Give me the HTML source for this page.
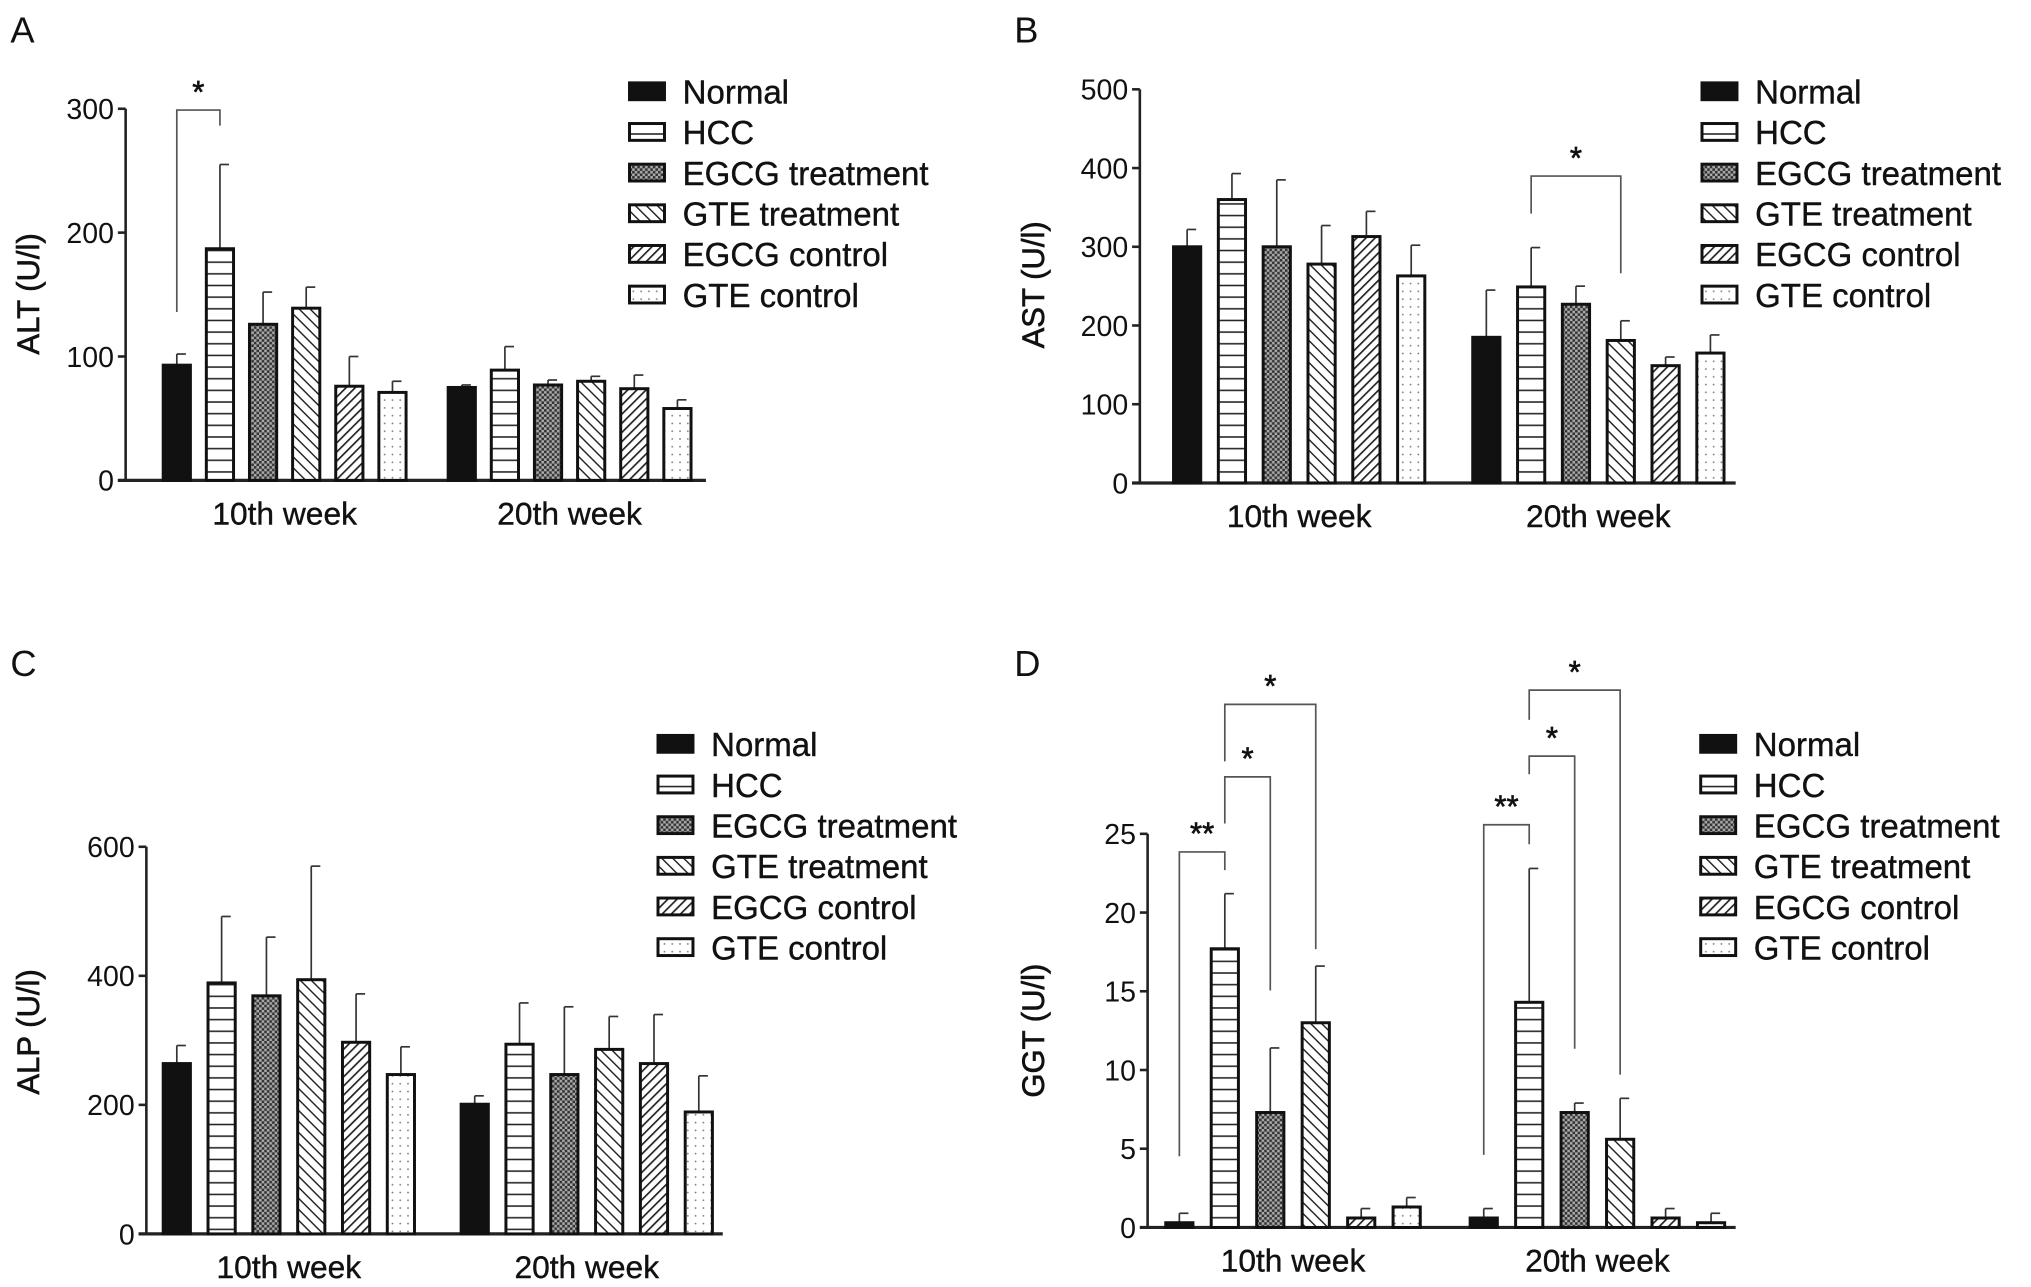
<!DOCTYPE html>
<html><head><meta charset="utf-8">
<style>html,body{margin:0;padding:0;background:#fff}svg{display:block}text{font-family:"Liberation Sans",sans-serif;fill:#111}</style>
</head><body>
<svg id="fig" width="2031" height="1287" viewBox="0 0 1568 994" preserveAspectRatio="none" xmlns="http://www.w3.org/2000/svg">
<defs>
<pattern id="p-hcc" width="8" height="9" patternUnits="userSpaceOnUse"><rect width="8" height="9" fill="#fff"/><line x1="0" y1="4.5" x2="8" y2="4.5" stroke="#222" stroke-width="1.2"/></pattern>
<pattern id="p-egcg" width="4" height="4" patternUnits="userSpaceOnUse"><rect width="4" height="4" fill="#aaa"/><rect width="2" height="2" fill="#333"/><rect x="2" y="2" width="2" height="2" fill="#333"/></pattern>
<pattern id="p-gte" width="6" height="6" patternUnits="userSpaceOnUse" patternTransform="rotate(-45)"><rect width="6" height="6" fill="#fff"/><line x1="0" y1="0" x2="0" y2="6" stroke="#222" stroke-width="2.2"/></pattern>
<pattern id="p-egcgc" width="5" height="5" patternUnits="userSpaceOnUse" patternTransform="rotate(45)"><rect width="5" height="5" fill="#fff"/><line x1="0" y1="0" x2="0" y2="5" stroke="#222" stroke-width="2.6"/></pattern>
<pattern id="p-gtec" width="6" height="6" patternUnits="userSpaceOnUse"><rect width="6" height="6" fill="#fff"/><circle cx="3" cy="3" r="0.7" fill="#777"/></pattern>
</defs>
</svg>
<script>
const seriesNames = ["Normal","HCC","EGCG treatment","GTE treatment","EGCG control","GTE control"];
const categories = ["10th week","20th week"];
const altMean10 = [93,187,126,139,76,71];
const altErr10 = [102,255,152,156,100,80];
const altMean20 = [75,89,77,80,74,58];
const altErr20 = [77,108,81,84,85,65];
const astMean10 = [300,360,300,278,313,263];
const astErr10 = [322,393,385,327,345,302];
const astMean20 = [185,249,227,181,149,165];
const astErr20 = [245,299,250,206,160,188];
const alpMean10 = [264,389,369,394,297,247];
const alpErr10 = [292,492,460,570,372,290];
const alpMean20 = [201,294,247,286,264,189];
const alpErr20 = [214,358,352,337,340,245];
const ggtMean10 = [0.3,17.7,7.3,13,0.6,1.3];
const ggtErr10 = [0.9,21.2,11.4,16.6,1.2,1.9];
const ggtMean20 = [0.6,14.3,7.3,5.6,0.6,0.3];
const ggtErr20 = [1.2,22.8,7.9,8.2,1.2,0.9];
const altTicks = [0,100,200,300];
const astTicks = [0,100,200,300,400,500];
const alpTicks = [0,200,400,600];
const ggtTicks = [0,5,10,15,20,25];

const NS="http://www.w3.org/2000/svg";
const svg=document.getElementById('fig');
const fills=["#111","url(#p-hcc)","url(#p-egcg)","url(#p-gte)","url(#p-egcgc)","url(#p-gtec)"];
function mk(tag,attrs,parent){const e=document.createElementNS(NS,tag);for(const k in attrs)e.setAttribute(k,attrs[k]);(parent||svg).appendChild(e);return e;}

function panel(cfg){
  const g=mk('g',{});
  
  
  const y=v=>cfg.y0-(v-cfg.ticks[0])/(cfg.ticks[cfg.ticks.length-1]-cfg.ticks[0])*(cfg.y0-cfg.yTop);
  const lab=mk('text',{x:cfg.letterX,y:cfg.letterY,'font-size':28},g);lab.textContent=cfg.letter;
  
  
  mk('line',{x1:cfg.ax,y1:cfg.y0,x2:cfg.ax,y2:cfg.yTop,stroke:'#222','stroke-width':2},g);
  mk('line',{x1:cfg.ax-6,y1:cfg.y0,x2:cfg.axEnd,y2:cfg.y0,stroke:'#222','stroke-width':2.5},g);
  cfg.ticks.forEach(t=>{
    mk('line',{x1:cfg.ax-6,y1:y(t),x2:cfg.ax,y2:y(t),stroke:'#222','stroke-width':2},g);
    const tx=mk('text',{x:cfg.ax-9,y:y(t)+8,'font-size':22,'text-anchor':'end'},g);tx.textContent=t;
    
    
  });
  const yl=mk('text',{x:0,y:0,'font-size':24,'stroke':'#111','stroke-width':0.5,'text-anchor':'middle',transform:`translate(${cfg.ylx},${cfg.yly}) rotate(-90)`},g);
  yl.textContent=cfg.ylabel;
  
  
  const groups=[[cfg.m10,cfg.e10],[cfg.m20,cfg.e20]];
  groups.forEach((gr,gi)=>{
    const gx=cfg.gStart[gi];
    gr[0].forEach((v,i)=>{
      const x=gx+i*cfg.step, w=21, cx=x+w/2;
      mk('line',{x1:cx,y1:y(v),x2:cx,y2:y(gr[1][i]),stroke:'#333','stroke-width':1.3},g);
      mk('line',{x1:cx,y1:y(gr[1][i]),x2:cx+7,y2:y(gr[1][i]),stroke:'#333','stroke-width':1.3},g);
      const r=mk('rect',{x:x,y:y(v),width:w,height:cfg.y0-y(v),fill:fills[i],stroke:'#111','stroke-width':2.3},g);
      
      
    });
    const c=mk('text',{x:gx+(5*cfg.step+21)/2,y:cfg.y0+34,'font-size':24.5,'stroke':'#111','stroke-width':0.3,'text-anchor':'middle'},g);
    c.textContent=categories[gi];
    
    
  });
  (cfg.brackets||[]).forEach(b=>{
    const [gi,a,bb,ya,top,yb,star]=b;
    const xa=cfg.gStart[gi]+a*cfg.step+10.5, xb=cfg.gStart[gi]+bb*cfg.step+10.5;
    const p=mk('path',{d:`M${xa},${ya} V${top} H${xb} V${yb}`,fill:'none',stroke:'#555','stroke-width':1.3},g);
    
    
    const s=mk('text',{x:(xa+xb)/2,y:top-6,'font-size':24,'stroke':'#111','stroke-width':0.5,'text-anchor':'middle'},g);s.textContent=star;
    
    
  });
  seriesNames.forEach((n,i)=>{
    const ly=cfg.legY+i*31.4;
    const sw=mk('rect',{x:cfg.legX,y:ly-7,width:27,height:13,fill:fills[i],stroke:'#111','stroke-width':2.3},g);
    
    
    const t=mk('text',{x:cfg.legX+41,y:ly+9,'font-size':25.5,'stroke':'#111','stroke-width':0.3},g);t.textContent=n;
    
    
  });
}

panel({name:'panel-a-alt',letter:'A',letterX:8,letterY:33,ax:97,axEnd:545,y0:371,yTop:84,ticks:altTicks,ylabel:'ALT (U/l)',ylx:30,yly:227,
  m10:altMean10,e10:altErr10,m20:altMean20,e20:altErr20,gStart:[126,346],step:33.3,legX:486,legY:71,
  brackets:[[0,0,1,241,85,97,'*']]});
panel({name:'panel-b-ast',letter:'B',letterX:783,letterY:33,ax:880,axEnd:1340,y0:373,yTop:69,ticks:astTicks,ylabel:'AST (U/l)',ylx:806,yly:220,
  m10:astMean10,e10:astErr10,m20:astMean20,e20:astErr20,gStart:[906,1137],step:34.6,legX:1314,legY:71,
  brackets:[[1,1,3,165,136,211,'*']]});
panel({name:'panel-c-alp',letter:'C',letterX:8,letterY:522,ax:113,axEnd:558,y0:953,yTop:654,ticks:alpTicks,ylabel:'ALP (U/l)',ylx:30,yly:797,
  m10:alpMean10,e10:alpErr10,m20:alpMean20,e20:alpErr20,gStart:[126,356],step:34.6,legX:508,legY:575});
panel({name:'panel-d-ggt',letter:'D',letterX:783,letterY:522,ax:886,axEnd:1340,y0:948,yTop:644,ticks:ggtTicks,ylabel:'GGT (U/l)',ylx:806,yly:796,
  m10:ggtMean10,e10:ggtErr10,m20:ggtMean20,e20:ggtErr20,gStart:[900,1135],step:35.1,legX:1313,legY:575,
  brackets:[[0,0,1,893,658,672,'**'],[0,1,2,636,600,765,'*'],[0,1,3,588,544,733,'*'],
            [1,0,1,892,637,652,'**'],[1,1,2,598,584,810,'*'],[1,1,3,556,533,830,'*']]});
</script>
</body></html>
